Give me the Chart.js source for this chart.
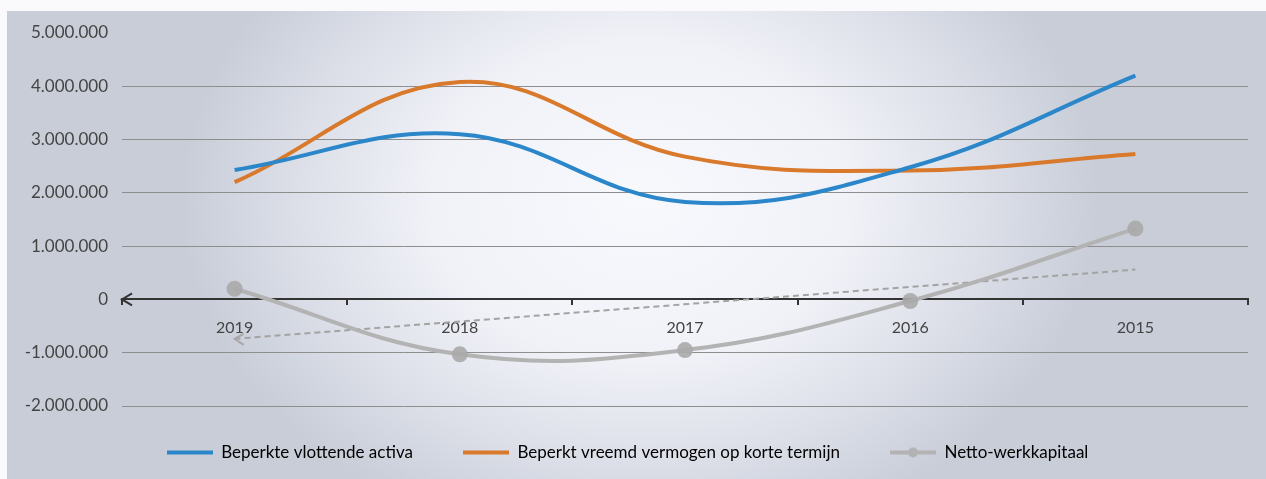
<!DOCTYPE html>
<html><head><meta charset="utf-8">
<script src="https://cdn.jsdelivr.net/npm/chart.js@4"></script>
<style>
html,body{margin:0;padding:0;background:#fafafd;}
#wrap{position:absolute;left:7px;top:11px;width:1259px;height:468px;
background:radial-gradient(ellipse 460px 350px at 633px 190px,#f8f9fd 0%,#f1f2f8 45%,#dcdfe8 75%,#c8cdd8 100%);}
#c{position:absolute;left:0;top:0;}
</style></head><body>
<div id="wrap"></div>
<canvas id="c" width="1266" height="479"></canvas>
<script>
const categories = ['2019','2018','2017','2016','2015'];
const vlottendeActiva = [2430000, 3100000, 1830000, 2480000, 4200000];
const vreemdVermogen = [2200000, 4080000, 2680000, 2420000, 2730000];
const nettoWerkkapitaal = [200000, -1030000, -950000, -30000, 1330000];
const trendNetto = [-740000, null, null, null, 560000];
const yTicks = [5000000,4000000,3000000,2000000,1000000,0,-1000000,-2000000];

function fmt(v){ const s=Math.abs(v).toString().replace(/\B(?=(\d{3})+(?!\d))/g,'.'); return (v<0?'-':'')+s; }

const FONT = 'Lato, "Open Sans", sans-serif';

function legendSwatch(color, dot){
  const c=document.createElement('canvas'); c.width=46; c.height=12;
  const g=c.getContext('2d'); g.fillStyle=color; g.fillRect(0,4,46,4);
  if(dot){ g.beginPath(); g.arc(23,6,5,0,Math.PI*2); g.fill(); }
  return c;
}

const decor = {
  id:'decor',
  afterLayout(chart){
    if(chart.legend){ chart.legend.top-=12; chart.legend.bottom-=12; }
  },
  afterDatasetsDraw(chart){
    const ctx=chart.ctx, x=chart.scales.x, y=chart.scales.y;
    const y0=y.getPixelForValue(0);
    ctx.save();
    ctx.strokeStyle='#333'; ctx.lineWidth=2;
    const lx=chart.chartArea.left;
    ctx.beginPath(); ctx.moveTo(lx+10,y0-6); ctx.lineTo(lx,y0); ctx.lineTo(lx+10,y0+6); ctx.stroke();
    const tx=x.getPixelForValue(0), ty=y.getPixelForValue(trendNetto[0]);
    ctx.strokeStyle='#a8a8a8'; ctx.lineWidth=2;
    ctx.beginPath(); ctx.moveTo(tx+9,ty-5); ctx.lineTo(tx,ty); ctx.lineTo(tx+9,ty+6); ctx.stroke();
    ctx.restore();
  }
};

new Chart(document.getElementById('c'), {
  type:'line',
  data:{
    labels:categories,
    datasets:[
      {label:'Beperkte vlottende activa', data:vlottendeActiva, borderColor:'#2b87c9', backgroundColor:'#2b87c9', borderWidth:4, tension:0.4, pointRadius:0},
      {label:'Beperkt vreemd vermogen op korte termijn', data:vreemdVermogen, borderColor:'#d8792b', backgroundColor:'#d8792b', borderWidth:4, tension:0.4, pointRadius:0},
      {label:'Netto-werkkapitaal', data:nettoWerkkapitaal, borderColor:'#b3b3b3', backgroundColor:'#b3b3b3', borderWidth:4, tension:0.4, pointRadius:8, pointBorderWidth:0, pointBackgroundColor:'rgba(170,170,170,0.9)'},
      {label:'trend', data:trendNetto, borderColor:'#a3a3a3', borderWidth:2, borderDash:[6,4], spanGaps:true, pointRadius:0, tension:0}
    ]
  },
  plugins:[decor],
  options:{
    responsive:false, animation:false,
    layout:{padding:{left:7,right:18,top:33,bottom:-4}},
    plugins:{
      tooltip:{enabled:false},
      legend:{
        position:'bottom',
        labels:{
          font:{family:FONT,size:17}, color:'#3a3a3a', boxWidth:46, boxHeight:12, pointStyleWidth:46, usePointStyle:true, padding:50,
          filter:(item)=>item.datasetIndex<3,
          generateLabels(chart){
            return chart.data.datasets.map((d,i)=>({text:d.label, fillStyle:d.borderColor, strokeStyle:d.borderColor, lineWidth:0, datasetIndex:i, hidden:false, pointStyle:legendSwatch(d.borderColor, i===2)}));
          }
        }
      }
    },
    scales:{
      x:{
        position:{y:0}, offset:true,
        grid:{drawOnChartArea:false, drawTicks:true, tickLength:5, offset:true, color:'#333', lineWidth:2},
        border:{display:true, color:'#333', width:2},
        ticks:{font:{family:FONT,size:16}, color:'#444', padding:14}
      },
      y:{
        min:-2000000, max:5000000,
        afterBuildTicks(s){ s.ticks = yTicks.map(v=>({value:v})); },
        afterFit(s){ s.width=115; },
        grid:{color:(c)=>c.tick&&c.tick.value===5000000?'rgba(0,0,0,0)':'#8e8e8e', lineWidth:1, drawTicks:false},
        border:{display:false},
        ticks:{font:{family:FONT,size:17}, color:'#444', padding:14, callback:(v)=>fmt(v)}
      }
    }
  }
});
</script>
</body></html>
